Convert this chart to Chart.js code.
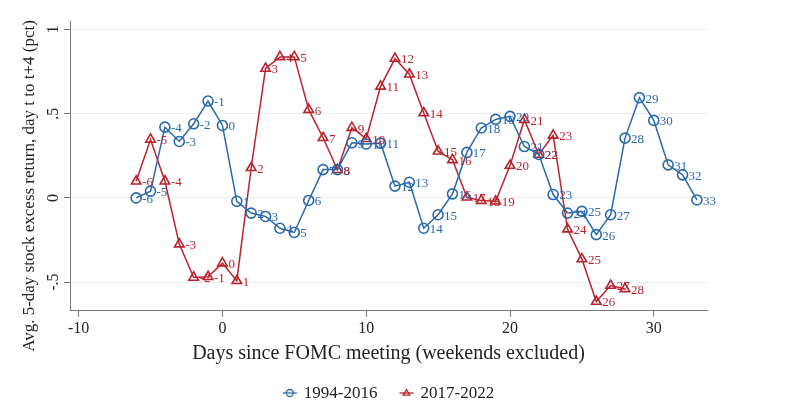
<!DOCTYPE html>
<html><head><meta charset="utf-8">
<script src="https://cdn.jsdelivr.net/npm/chart.js@4.4.0/dist/chart.umd.min.js"></script>
<style>html,body{margin:0;padding:0;background:#fff}#wrap{width:805px;height:404px;position:relative}</style>
</head><body><div id="wrap"><canvas id="c"></canvas></div>
<script>
// ---- data ----
const days1994 = [-6,-5,-4,-3,-2,-1,0,1,2,3,4,5,6,7,8,9,10,11,12,13,14,15,16,17,18,19,20,21,22,23,24,25,26,27,28,29,30,31,32,33];
const ret1994  = [0.00,0.04,0.42,0.335,0.44,0.575,0.43,-0.02,-0.09,-0.11,-0.18,-0.205,-0.015,0.168,0.168,0.327,0.32,0.325,0.07,0.093,-0.18,-0.10,0.024,0.27,0.415,0.466,0.484,0.305,0.258,0.02,-0.09,-0.08,-0.218,-0.10,0.355,0.595,0.46,0.196,0.137,-0.012];
const days2017 = [-6,-5,-4,-3,-2,-1,0,1,2,3,4,5,6,7,8,9,10,11,12,13,14,15,16,17,18,19,20,21,22,23,24,25,26,27,28];
const ret2017  = [0.099,0.347,0.099,-0.274,-0.472,-0.468,-0.387,-0.492,0.179,0.768,0.837,0.837,0.524,0.357,0.167,0.417,0.351,0.662,0.827,0.734,0.504,0.277,0.226,0.004,-0.016,-0.02,0.192,0.464,0.258,0.371,-0.185,-0.363,-0.615,-0.52,-0.54];
const seriesNames = ['1994-2016','2017-2022'];
const xTicks = [-10,0,10,20,30];
const yTicks = [-0.5,0,0.5,1];
const xTitle = 'Days since FOMC meeting (weekends excluded)';
const yTitle = 'Avg. 5-day stock excess return, day t to t+4 (pct)';

const BLUE = '#2a69ad';
const RED = '#b8232e';
const SERIF = '"Liberation Serif", "DejaVu Serif", serif';

function fmtY(v){
  if (v === 0) return '0';
  let s = String(Math.abs(v)).replace(/^0\./,'.');
  return (v < 0 ? '-' : '') + s;
}

const pointLabels = {
  id:'pointLabels',
  afterDatasetsDraw(chart){
    const ctx = chart.ctx;
    chart.data.datasets.forEach((ds,i)=>{
      const meta = chart.getDatasetMeta(i);
      ctx.save();
      ctx.fillStyle = ds.borderColor;
      ctx.font = '13px ' + SERIF;
      ctx.textBaseline = 'middle';
      ctx.textAlign = 'left';
      meta.data.forEach((pt,j)=>{
        ctx.fillText(String(ds.data[j].x), pt.x + 6, pt.y + 1.5);
      });
      ctx.restore();
    });
  }
};

const yLabels = {
  id:'yLabels',
  afterDraw(chart){
    const ctx = chart.ctx, ys = chart.scales.y, ca = chart.chartArea;
    ctx.save();
    ctx.fillStyle = '#222';
    ctx.font = '16px ' + SERIF;
    ctx.textAlign = 'center';
    ctx.textBaseline = 'middle';
    yTicks.forEach(v=>{
      const py = ys.getPixelForValue(v);
      ctx.save();
      ctx.translate(ca.left - 16, py);
      ctx.rotate(-Math.PI/2);
      ctx.fillText(fmtY(v), 0, 0);
      ctx.restore();
    });
    // y title
    ctx.font = '17px ' + SERIF;
    ctx.save();
    ctx.translate(30, 186);
    ctx.rotate(-Math.PI/2);
    ctx.fillText(yTitle, 0, 0);
    ctx.restore();
    ctx.restore();
  }
};

function drawMarker(ctx, type, x, y, r, color, lw){
  ctx.strokeStyle = color; ctx.lineWidth = lw; ctx.beginPath();
  if (type === 'circle'){ ctx.arc(x,y,r,0,Math.PI*2); }
  else { const h = r*1.5; ctx.moveTo(x, y - r); ctx.lineTo(x + r*0.95, y + r*0.6); ctx.lineTo(x - r*0.95, y + r*0.6); ctx.closePath(); }
  ctx.stroke();
}

const legendPlugin = {
  id:'customLegend',
  afterDraw(chart){
    const ctx = chart.ctx, ca = chart.chartArea;
    ctx.save();
    ctx.font = '17px ' + SERIF;
    ctx.textBaseline = 'middle';
    ctx.textAlign = 'left';
    const sym = 14, gap1 = 7, gap2 = 22;
    const items = [
      {name: seriesNames[0], color: BLUE, type: 'circle'},
      {name: seriesNames[1], color: RED, type: 'triangle'}
    ];
    let total = 0;
    items.forEach((it,i)=>{ it.w = ctx.measureText(it.name).width; total += sym + gap1 + it.w + (i ? gap2 : 0); });
    let x = (ca.left + ca.right)/2 - total/2;
    const y = 393;
    items.forEach((it,i)=>{
      if (i) x += gap2;
      ctx.strokeStyle = it.color; ctx.lineWidth = 1.3;
      ctx.beginPath(); ctx.moveTo(x, y); ctx.lineTo(x + sym, y); ctx.stroke();
      drawMarker(ctx, it.type, x + sym/2, y, 3.5, it.color, 1.3);
      x += sym + gap1;
      ctx.fillStyle = '#222';
      ctx.fillText(it.name, x, y + 1);
      x += it.w;
    });
    ctx.restore();
  }
};

const toXY = (xs, ys) => xs.map((d,i)=>({x:d, y:ys[i]}));

new Chart(document.getElementById('c'), {
  type:'line',
  data:{
    datasets:[
      {label: seriesNames[0], data: toXY(days1994, ret1994), borderColor: BLUE, backgroundColor:'rgba(0,0,0,0)',
       borderWidth:1.5, pointStyle:'circle', pointRadius:5, pointBorderWidth:1.6, pointBackgroundColor:'rgba(255,255,255,0)', pointBorderColor: BLUE, tension:0},
      {label: seriesNames[1], data: toXY(days2017, ret2017), borderColor: RED, backgroundColor:'rgba(0,0,0,0)',
       borderWidth:1.5, pointStyle:'triangle', pointRadius:5.5, pointBorderWidth:1.6, pointBackgroundColor:'rgba(255,255,255,0)', pointBorderColor: RED, tension:0}
    ]
  },
  options:{
    responsive:true, maintainAspectRatio:false, animation:false,
    layout:{padding:{left:0, right:98, top:21, bottom:38}},
    plugins:{legend:{display:false}, tooltip:{enabled:false}},
    scales:{
      x:{type:'linear', min:-10.6, max:33.7,
         afterBuildTicks(s){ s.ticks = xTicks.map(v=>({value:v})); },
         grid:{drawOnChartArea:false, drawTicks:true, tickLength:6, tickColor:'#777'},
         border:{color:'#777', width:1},
         ticks:{color:'#222', font:{family:SERIF, size:16}, padding:2, maxRotation:0, autoSkip:false},
         title:{display:true, text:xTitle, color:'#222', font:{family:SERIF, size:20}, padding:{top:2,bottom:0}}
      },
      y:{type:'linear', min:-0.67, max:1.05,
         afterBuildTicks(s){ s.ticks = yTicks.map(v=>({value:v})); },
         afterFit(s){ s.width = 70; },
         grid:{color:'#ececec', lineWidth:1, drawTicks:true, tickLength:6, tickColor:'#777'},
         border:{color:'#777', width:1},
         ticks:{display:false}
      }
    }
  },
  plugins:[pointLabels, yLabels, legendPlugin]
});
</script></body></html>
